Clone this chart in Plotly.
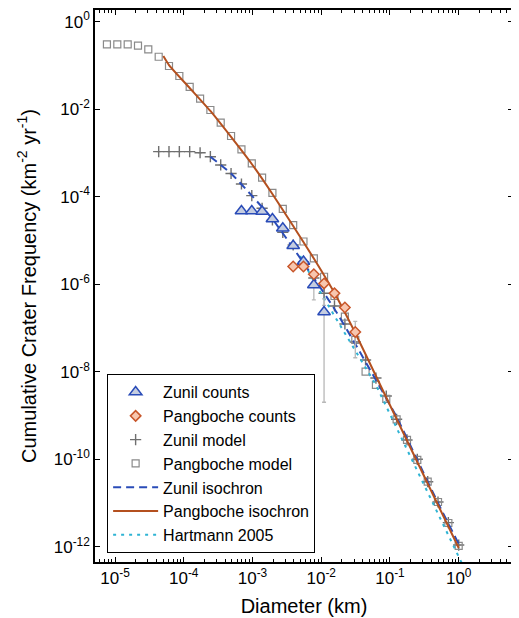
import plotly.graph_objects as go

# ---------------- data ----------------
# diameters (km), sqrt(2) bins
pang_model_d = [7.63e-6, 1.08e-5, 1.53e-5, 2.16e-5, 3.05e-5, 4.32e-5, 6.10e-5, 8.63e-5,
                1.22e-4, 1.73e-4, 2.44e-4, 3.45e-4, 4.88e-4, 6.91e-4, 9.77e-4, 1.38e-3,
                1.95e-3, 2.76e-3, 3.91e-3, 5.52e-3, 7.81e-3, 1.10e-2, 1.56e-2, 2.21e-2,
                3.13e-2, 4.42e-2, 6.25e-2, 8.84e-2, 0.125, 0.177, 0.25, 0.354, 0.5, 0.707, 1.0]
pang_model_n = [0.304, 0.304, 0.304, 0.283, 0.234, 0.158, 0.0971, 0.0574, 0.0322, 0.0174,
                0.00959, 0.00491, 0.00244, 0.0012, 5.79e-4, 2.72e-4, 1.22e-4, 5.24e-5,
                2.25e-5, 9.46e-6, 3.91e-6, 1.48e-6, 5.37e-7, 1.81e-7, 5.31e-8, 1.0e-8,
                4.97e-9, 2.38e-9, 8.17e-10, 2.75e-10, 9.6e-11, 3.06e-11, 1.05e-11,
                3.48e-12, 1.04e-12]

zunil_model_d = [4.32e-5, 6.10e-5, 8.63e-5, 1.22e-4, 1.73e-4, 2.44e-4, 3.45e-4, 4.88e-4,
                 6.91e-4, 9.77e-4, 1.38e-3, 1.95e-3, 2.76e-3, 3.91e-3, 5.52e-3, 7.81e-3,
                 1.10e-2, 1.56e-2, 2.21e-2, 3.13e-2, 4.42e-2, 6.25e-2, 8.84e-2, 0.125,
                 0.177, 0.25, 0.354, 0.5, 0.707, 1.0]
zunil_model_n = [1.07e-3, 1.07e-3, 1.07e-3, 1.07e-3, 1.01e-3, 8.2e-4, 5.31e-4, 3.39e-4,
                 1.95e-4, 1.06e-4, 5.43e-5, 2.93e-5, 1.53e-5, 7.87e-6, 3.21e-6, 1.39e-6,
                 6.19e-7, 3.18e-7, 1.23e-7, 4.77e-8, 1.85e-8, 7.16e-9, 2.78e-9, 8.17e-10,
                 2.75e-10, 9.95e-11, 3.06e-11, 1.05e-11, 3.54e-12, 1.09e-12]
zunil_model_err = [0, 0, 0, 0, 0, 0, 0, 0, 0, 0, 0, 0, 0, 0, 0, 0,
                   2.9e-7, 0, 0, 0, 0, 0, 0, 0, 0, 0, 0, 0, 0, 0]

zunil_counts_d = [6.91e-4, 9.77e-4, 1.38e-3, 1.95e-3, 2.76e-3, 3.91e-3, 5.52e-3, 7.81e-3, 1.10e-2]
zunil_counts_n = [4.71e-5, 4.71e-5, 4.59e-5, 3.09e-5, 1.9e-5, 7.59e-6, 3.3e-6, 9.59e-7, 2.32e-7]
zunil_counts_err = [0, 0, 0, 0, 0, 0, 0, 5.2e-7, 2.3e-7]

pang_counts_d = [3.91e-3, 5.52e-3, 7.81e-3, 1.10e-2, 1.56e-2, 2.21e-2, 3.13e-2]
pang_counts_n = [2.54e-6, 2.54e-6, 1.69e-6, 1.04e-6, 6.19e-7, 2.93e-7, 8.08e-8]
pang_counts_err = [0, 0, 0, 0, 0, 0, 6.0e-8]

zunil_iso_d = [2.44e-4, 4.88e-4, 9.77e-4, 1.95e-3, 3.91e-3, 7.81e-3, 1.56e-2, 3.13e-2,
               6.25e-2, 0.125, 0.25, 0.5, 1.0]
zunil_iso_n = [8.2e-4, 3.39e-4, 1.06e-4, 3.09e-5, 6.71e-6, 1.39e-6, 2.71e-7, 4.3e-8,
               6.46e-9, 9.22e-10, 9.6e-11, 9.98e-12, 1.15e-12]

pang_iso_d = [5.05e-5, 6.10e-5, 1.22e-4, 2.44e-4, 4.88e-4, 9.77e-4, 1.95e-3, 3.91e-3,
              7.81e-3, 1.56e-2, 3.13e-2, 6.25e-2, 0.125, 0.25, 0.5, 1.0]
pang_iso_n = [0.164, 0.102, 0.0305, 9.1e-3, 2.32e-3, 5.58e-4, 1.15e-4, 2.14e-5, 3.87e-6,
              6.29e-7, 7.67e-8, 7.98e-9, 8.3e-10, 8.63e-11, 8.97e-12, 9.33e-13]

hart_d = [4.94e-3, 7.81e-3, 1.56e-2, 3.13e-2, 6.25e-2, 0.125, 0.25, 0.5, 1.0, 1.41]
hart_n = [4.41e-6, 1.18e-6, 1.88e-7, 3.13e-8, 4.97e-9, 5.17e-10, 5.37e-11, 5.6e-12,
          5.82e-13, 1.93e-13]

x_tick_vals = [1e-5, 1e-4, 1e-3, 1e-2, 1e-1, 1e0]
x_tick_text = ["10<sup>-5</sup>", "10<sup>-4</sup>", "10<sup>-3</sup>",
               "10<sup>-2</sup>", "10<sup>-1</sup>", "10<sup>0</sup>"]
y_tick_vals = [1e0, 1e-2, 1e-4, 1e-6, 1e-8, 1e-10, 1e-12]
y_tick_text = ["10<sup>0</sup>", "10<sup>-2</sup>", "10<sup>-4</sup>", "10<sup>-6</sup>",
               "10<sup>-8</sup>", "10<sup>-10</sup>", "10<sup>-12</sup>"]

# ---------------- styles ----------------
FONT = "Liberation Sans, Arial, Helvetica, sans-serif"
ORANGE = "#b4501f"
BLUE = "#2a4cb8"
CYAN = "#2fb4d4"
GRAY_PLUS = "#6f6f6f"
GRAY_SQ = "#8a8a8a"
ERR = "#b8b8b8"

fig = go.Figure()

fig.add_trace(go.Scatter(
    x=zunil_model_d, y=zunil_model_n, mode="markers", name="Zunil model",
    marker=dict(symbol="cross-thin", size=8, line=dict(color=GRAY_PLUS, width=1.4)),
    error_y=dict(type="data", array=zunil_model_err, symmetric=True,
                 color=ERR, thickness=1.3, width=2),
    legendrank=3))

fig.add_trace(go.Scatter(
    x=pang_model_d, y=pang_model_n, mode="markers", name="Pangboche model",
    marker=dict(symbol="square-open", size=7, color=GRAY_SQ, line=dict(width=1.2)),
    legendrank=4))

fig.add_trace(go.Scatter(
    x=hart_d, y=hart_n, mode="lines", name="Hartmann 2005",
    line=dict(color=CYAN, width=2, dash="3px,5px"), legendrank=7))

fig.add_trace(go.Scatter(
    x=zunil_iso_d, y=zunil_iso_n, mode="lines", name="Zunil isochron",
    line=dict(color=BLUE, width=2, dash="8px,5px", shape="spline", smoothing=0.5),
    legendrank=5))

fig.add_trace(go.Scatter(
    x=pang_iso_d, y=pang_iso_n, mode="lines", name="Pangboche isochron",
    line=dict(color=ORANGE, width=2, shape="spline", smoothing=0.5), legendrank=6))

fig.add_trace(go.Scatter(
    x=zunil_counts_d, y=zunil_counts_n, mode="markers", name="Zunil counts",
    marker=dict(symbol="triangle-up", size=11, color="#c5cde0",
                line=dict(color=BLUE, width=1.5)),
    error_y=dict(type="data", array=zunil_counts_err, symmetric=True,
                 color=ERR, thickness=1.3, width=2),
    legendrank=1))

fig.add_trace(go.Scatter(
    x=pang_counts_d, y=pang_counts_n, mode="markers", name="Pangboche counts",
    marker=dict(symbol="diamond", size=8, color="#f8c6ae",
                line=dict(color="#c8562a", width=1.5)),
    error_y=dict(type="data", array=pang_counts_err, symmetric=True,
                 color=ERR, thickness=1.3, width=2),
    legendrank=2))

minor_x = []
for e in range(-6, 1):
    for m in range(2, 10):
        minor_x.append(m * 10.0 ** e)

# The page body has an 8px default margin: the figure is sized/offset to compensate.
fig.update_layout(
    width=511, height=610, autosize=False,
    margin=dict(l=87, r=6, t=2, b=56),
    paper_bgcolor="white", plot_bgcolor="white",
    font=dict(family=FONT, color="black", size=16),
    showlegend=True,
    legend=dict(x=0.029, y=0.016, xanchor="left", yanchor="bottom",
                bgcolor="white", bordercolor="black", borderwidth=1,
                font=dict(family=FONT, size=16, color="black"),
                itemwidth=45, tracegroupgap=0),
)

fig.update_xaxes(
    type="log", range=[-5.291, 0.79], automargin=False,
    tickmode="array", tickvals=x_tick_vals, ticktext=x_tick_text,
    ticks="inside", ticklen=5, tickwidth=1, tickcolor="black",
    showline=True, linecolor="black", linewidth=1.5, mirror="ticks",
    showgrid=False, zeroline=False,
    tickfont=dict(size=17),
    minor=dict(tickmode="array", tickvals=minor_x, ticks="inside", ticklen=3,
               tickwidth=1, tickcolor="black", showgrid=False),
    title=dict(text="Diameter (km)", font=dict(size=20), standoff=12),
)

fig.update_yaxes(
    type="log", range=[-12.35, 0.267], automargin=False,
    tickmode="array", tickvals=y_tick_vals, ticktext=y_tick_text,
    ticks="inside", ticklen=5, tickwidth=1, tickcolor="black",
    showline=True, linecolor="black", linewidth=1.5, mirror="ticks",
    showgrid=False, zeroline=False,
    tickfont=dict(size=17),
    title=dict(text="Cumulative Crater Frequency (km<sup>-2</sup> yr<sup>-1</sup>)",
               font=dict(size=20), standoff=12),
)

fig.write_html("out.html")
